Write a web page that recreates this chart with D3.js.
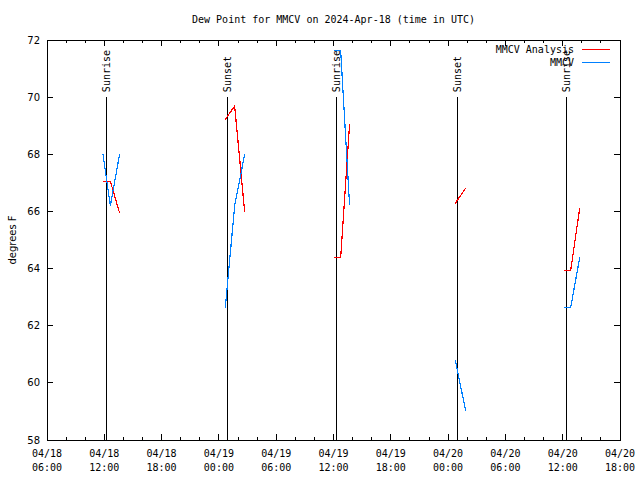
<!DOCTYPE html>
<html>
<head>
<meta charset="utf-8">
<script src="https://cdn.jsdelivr.net/npm/d3@7"></script>
<style>
  body { margin: 0; background: #fff; }
  text { font-family: "DejaVu Sans Mono", monospace; font-size: 10px; fill: #000; }
</style>
</head>
<body>
<div id="chart"></div>
<script>
// series (null = gap between runs)
let analysisTimes = ["2024-04-18T11:52Z", "2024-04-18T12:38Z", "2024-04-18T13:36Z", null,
                     "2024-04-19T00:40Z", "2024-04-19T01:39Z", "2024-04-19T02:42Z", null,
                     "2024-04-19T12:05Z", "2024-04-19T12:45Z", "2024-04-19T13:41Z", null,
                     "2024-04-20T00:45Z", "2024-04-20T01:50Z", null,
                     "2024-04-20T12:10Z", "2024-04-20T12:50Z", "2024-04-20T13:47Z"]
let analysisValues = [67.05, 67.05, 65.95, null,
                      69.22, 69.69, 65.98, null,
                      64.38, 64.38, 69.05, null,
                      66.28, 66.82, null,
                      63.93, 63.93, 66.12]
let obsTimes = analysisTimes
let obsValues = [68.0, 66.2, 68.0, null,
                 62.62, 66.2, 68.0, null,
                 71.63, 71.63, 66.22, null,
                 60.8, 59.03, null,
                 62.63, 62.63, 64.39]

let eventTimes = ["2024-04-18T12:13Z", "2024-04-19T00:53Z", "2024-04-19T12:16Z", "2024-04-20T00:58Z", "2024-04-20T12:23Z"]
let eventNames = ["Sunrise", "Sunset", "Sunrise", "Sunset", "Sunrise"]

let yTicks = [58, 60, 62, 64, 66, 68, 70, 72]

let width = 640, height = 480
let margin = {top: 40, right: 20, bottom: 40, left: 47}

let svg = d3.select("#chart").append("svg")
    .attr("width", width)
    .attr("height", height)

let x = d3.scaleUtc()
    .domain([new Date("2024-04-18T06:00Z"), new Date("2024-04-20T18:00Z")])
    .range([margin.left, width - margin.right])

let y = d3.scaleLinear()
    .domain([58, 72])
    .range([height - margin.bottom, margin.top])

let majorX = x.ticks(d3.utcHour.every(6))
let minorX = x.ticks(d3.utcHour.every(2))

// ticks (inward, mirrored)
let tickG = svg.append("g").attr("stroke", "#000").attr("shape-rendering", "crispEdges")
minorX.forEach(t => {
    let len = majorX.some(m => +m === +t) ? 6 : 3
    tickG.append("line").attr("x1", x(t)).attr("x2", x(t)).attr("y1", y(58)).attr("y2", y(58) - len)
    tickG.append("line").attr("x1", x(t)).attr("x2", x(t)).attr("y1", y(72)).attr("y2", y(72) + len)
})
yTicks.forEach(v => {
    tickG.append("line").attr("x1", x.range()[0]).attr("x2", x.range()[0] + 6).attr("y1", y(v)).attr("y2", y(v))
    tickG.append("line").attr("x1", x.range()[1]).attr("x2", x.range()[1] - 6).attr("y1", y(v)).attr("y2", y(v))
})

// x labels
let fmtDay = d3.utcFormat("%m/%d"), fmtHour = d3.utcFormat("%H:%M")
let xl = svg.append("g").selectAll("text").data(majorX).join("text")
    .attr("text-anchor", "middle")
    .attr("x", d => x(d))
xl.append("tspan").attr("x", d => x(d)).attr("y", y(58) + 17).text(d => fmtDay(d))
xl.append("tspan").attr("x", d => x(d)).attr("y", y(58) + 31).text(d => fmtHour(d))

// y labels
svg.append("g").selectAll("text").data(yTicks).join("text")
    .attr("x", margin.left - 7)
    .attr("y", d => y(d))
    .attr("dy", "0.35em")
    .attr("text-anchor", "end")
    .style("font-family", "'DejaVu Sans', sans-serif")
    .text(d => d)

svg.append("text")
    .attr("transform", `translate(12,${(y(58) + y(72)) / 2}) rotate(-90)`)
    .attr("text-anchor", "middle")
    .attr("dy", "0.35em")
    .style("font-family", "'DejaVu Sans', sans-serif")
    .text("degrees F")

svg.append("text")
    .attr("x", (x.range()[0] + x.range()[1]) / 2)
    .attr("y", 23)
    .attr("text-anchor", "middle")
    .text("Dew Point for MMCV on 2024-Apr-18 (time in UTC)")

// sunrise / sunset markers
let ev = svg.append("g")
eventTimes.forEach((t, i) => {
    let xe = Math.round(x(new Date(t))) + 0.5
    ev.append("line")
        .attr("x1", xe).attr("x2", xe)
        .attr("y1", y(70)).attr("y2", y(58))
        .attr("stroke", "#000")
        .attr("shape-rendering", "crispEdges")
    ev.append("text")
        .attr("transform", `translate(${xe},${y(70) - 5}) rotate(-90)`)
        .attr("dy", "0.35em")
        .text(eventNames[i])
})

// series
let line = d3.line()
    .defined(d => d[0] != null && d[1] != null)
    .x(d => x(new Date(d[0])))
    .y(d => y(d[1]))

svg.append("path")
    .attr("d", line(d3.zip(analysisTimes, analysisValues)))
    .attr("fill", "none").attr("stroke", "#ff0000").attr("stroke-width", 1.2)
    .attr("shape-rendering", "crispEdges")

svg.append("path")
    .attr("d", line(d3.zip(obsTimes, obsValues)))
    .attr("fill", "none").attr("stroke", "#0080ff").attr("stroke-width", 1.2)
    .attr("shape-rendering", "crispEdges")

// legend
let legend = [["MMCV Analysis", "#ff0000"], ["MMCV", "#0080ff"]]
legend.forEach(([name, col], i) => {
    let ly = 49.5 + i * 13
    svg.append("text").attr("x", 574).attr("y", ly).attr("dy", "0.35em")
        .attr("text-anchor", "end").text(name)
    svg.append("line").attr("x1", 582).attr("x2", 610).attr("y1", ly).attr("y2", ly)
        .attr("stroke", col).attr("stroke-width", 1.2)
        .attr("shape-rendering", "crispEdges")
})

// border
svg.append("rect")
    .attr("x", x.range()[0] + 0.5).attr("y", y(72) + 0.5)
    .attr("width", x.range()[1] - x.range()[0])
    .attr("height", y(58) - y(72))
    .attr("fill", "none").attr("stroke", "#000")
    .attr("shape-rendering", "crispEdges")
</script>
</body>
</html>
